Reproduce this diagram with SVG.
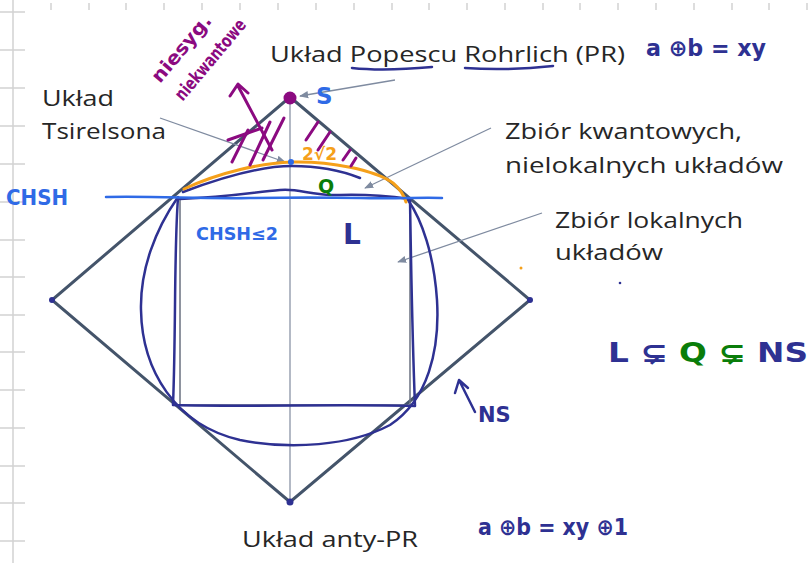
<svg xmlns="http://www.w3.org/2000/svg" width="810" height="563" viewBox="0 0 810 563">
<defs>
<style>
.grid{stroke:#d2d2d2;stroke-width:1.5;fill:none}
.lbl{font-family:"Open Sans","Liberation Sans",sans-serif;font-size:21px;fill:#262626}
.hw{font-family:"DejaVu Sans","Liberation Sans",sans-serif;font-weight:bold}
.navy{fill:#2e3192}
.blue{fill:#2f6ae6}
.lead{stroke:#7f8ba0;stroke-width:1.3;fill:none}
.dia{stroke:#44546a;stroke-width:3;fill:none}
.pen{fill:none;stroke-linecap:round;stroke-linejoin:round}
</style>
<marker id="ah" viewBox="0 0 10 10" refX="9" refY="5" markerWidth="7" markerHeight="7" orient="auto">
<path d="M0,1 L10,5 L0,9 Z" fill="#7f8ba0"/>
</marker>
</defs>
<rect width="810" height="563" fill="#ffffff"/>
<g id="grid" class="grid">
<line x1="13" y1="0" x2="13" y2="563"/>
<path d="M0,12H25M0,50H25M0,88H25M0,126H25M0,164H25M0,202H25M0,240H25M0,277H25M0,315H25M0,352H25M0,390H25M0,428H25M0,466H25M0,503H25M0,541H25"/>
<path d="M51,3V10M89,3V10M126,3V10M164,3V10M202,3V10M240,3V10M278,3V10M316,3V10M354,3V10M392,3V10M429,3V10M467,3V10M505,3V10M543,3V10M580,3V10M618,3V10M656,3V10M694,3V10M732,3V10M769,3V10M807,3V10"/>
</g>
<g id="diamond">
<polygon class="dia" points="290,97 530,300 290,502 52,300"/>
<line x1="290" y1="97" x2="290" y2="502" stroke="#8a94a6" stroke-width="1.3"/>
<rect x="180" y="198" width="230" height="207" fill="none" stroke="#6a7080" stroke-width="1.5"/>
<circle cx="52" cy="300" r="3" fill="#2e3192"/>
<circle cx="530" cy="300" r="3" fill="#2e3192"/>
<circle cx="290" cy="502" r="3.5" fill="#2e3192"/>
</g>
<g id="connectors">
<line class="lead" x1="160" y1="118" x2="285" y2="162" marker-end="url(#ah)"/>
<line class="lead" x1="491" y1="128" x2="365" y2="188" marker-end="url(#ah)"/>
<line class="lead" x1="542" y1="213" x2="398" y2="262" marker-end="url(#ah)"/>
<line class="lead" x1="395" y1="80" x2="300" y2="96" marker-end="url(#ah)"/>
</g>
<g id="sets">
<path class="pen" stroke="#2e3192" stroke-width="2.5" d="M178,198 C174,250 176,330 173,405 C250,407 340,404 415,406 C412,330 411,260 410,200"/>
<path class="pen" stroke="#2e3192" stroke-width="2.5" d="M178,197 C155,230 140,270 141,310 C142,370 175,425 240,440 C290,450 350,446 390,425 C428,400 440,350 437,300 C434,255 422,220 408,200"/>
<path class="pen" stroke="#2e3192" stroke-width="2.5" d="M183,192 C220,178 260,166 292,166 C320,166 345,172 360,178"/>
<path class="pen" stroke="#2e3192" stroke-width="2.5" d="M180,199 C230,197 255,192 280,190 C300,188 310,196 340,195 C370,194 395,197 410,199"/>
<path class="pen" stroke="#f5a01a" stroke-width="3" d="M184,189 C220,172 262,163 292,162 C330,161 375,170 393,183 C400,189 404,195 406,202"/>
<path class="pen" stroke="#2f6ae6" stroke-width="2.5" d="M106,197 C160,196 200,199 250,198 C300,197 320,197 360,198 C400,199 420,197 442,198"/>
<circle cx="291" cy="162" r="3" fill="#2f6ae6"/>
<circle cx="290" cy="98" r="6.5" fill="#8b0a80"/>
<circle cx="521" cy="268" r="1.5" fill="#f5a01a"/>
<circle cx="620" cy="283" r="1.3" fill="#2e3192"/>
</g>
<g id="hatch" class="pen" stroke="#8b0a80" stroke-width="3">
<path d="M232,162 L248,130"/>
<path d="M228,140 L262,128"/>
<path d="M250,165 L270,122"/>
<path d="M263,160 L284,118"/>
<path d="M272,150 L238,86 M230,96 L238,84 L248,93"/>
<path d="M306,140 L318,122"/>
<path d="M318,150 L330,132"/>
<path d="M343,160 L350,150"/>
<path d="M351,166 L356,158"/>
</g>
<g id="labels">
<text class="lbl" x="270" y="62" textLength="355" lengthAdjust="spacingAndGlyphs">Układ Popescu Rohrlich (PR)</text>
<path class="pen" stroke="#2e3192" stroke-width="2.5" d="M352,68 C380,71 410,69 432,67 M465,68 C495,70 525,69 553,66"/>
<text class="lbl" x="42" y="106" textLength="72" lengthAdjust="spacingAndGlyphs">Układ</text>
<text class="lbl" x="42" y="139" textLength="124" lengthAdjust="spacingAndGlyphs">Tsirelsona</text>
<text class="lbl" x="505" y="139" textLength="237" lengthAdjust="spacingAndGlyphs">Zbiór kwantowych,</text>
<text class="lbl" x="505" y="173" textLength="278" lengthAdjust="spacingAndGlyphs">nielokalnych  układów</text>
<text class="lbl" x="555" y="228" textLength="188" lengthAdjust="spacingAndGlyphs">Zbiór lokalnych</text>
<text class="lbl" x="555" y="260" textLength="108" lengthAdjust="spacingAndGlyphs">układów</text>
<text class="lbl" x="242" y="547" textLength="176" lengthAdjust="spacingAndGlyphs">Układ anty-PR</text>
</g>
<g id="handwriting" class="hw">
<text class="navy" x="646" y="56" font-size="23" textLength="120" lengthAdjust="spacingAndGlyphs">a ⊕b = xy</text>
<text class="navy" x="478" y="535" font-size="23" textLength="150" lengthAdjust="spacingAndGlyphs">a ⊕b = xy ⊕1</text>
<text class="blue" x="6" y="205" font-size="21" textLength="62" lengthAdjust="spacingAndGlyphs">CHSH</text>
<text class="blue" x="196" y="240" font-size="17" textLength="82" lengthAdjust="spacingAndGlyphs">CHSH≤2</text>
<text class="navy" x="343" y="244" font-size="28">L</text>
<text class="blue" x="316" y="104" font-size="23">S</text>
<text x="302" y="160" font-size="17" fill="#f5a01a">2√2</text>
<text x="318" y="193" font-size="19" fill="#0a7d0a">Q</text>
<path class="pen" stroke="#2e3192" stroke-width="2.5" d="M475,412 L460,382 M455,393 L459,380 L468,388"/>
<text class="navy" x="478" y="422" font-size="21">NS</text>
<text class="navy" x="608" y="362" font-size="27" textLength="200" lengthAdjust="spacingAndGlyphs">L ⊊ <tspan fill="#0a7d0a">Q ⊊</tspan> NS</text>
<g transform="translate(160,84) rotate(-50)" fill="#8b0a80">
<text x="0" y="0" font-size="19" textLength="82" lengthAdjust="spacingAndGlyphs">niesyg.</text>
<text x="1" y="29" font-size="18" textLength="100" lengthAdjust="spacingAndGlyphs">niekwantowe</text>
</g>
</g>
</svg>
